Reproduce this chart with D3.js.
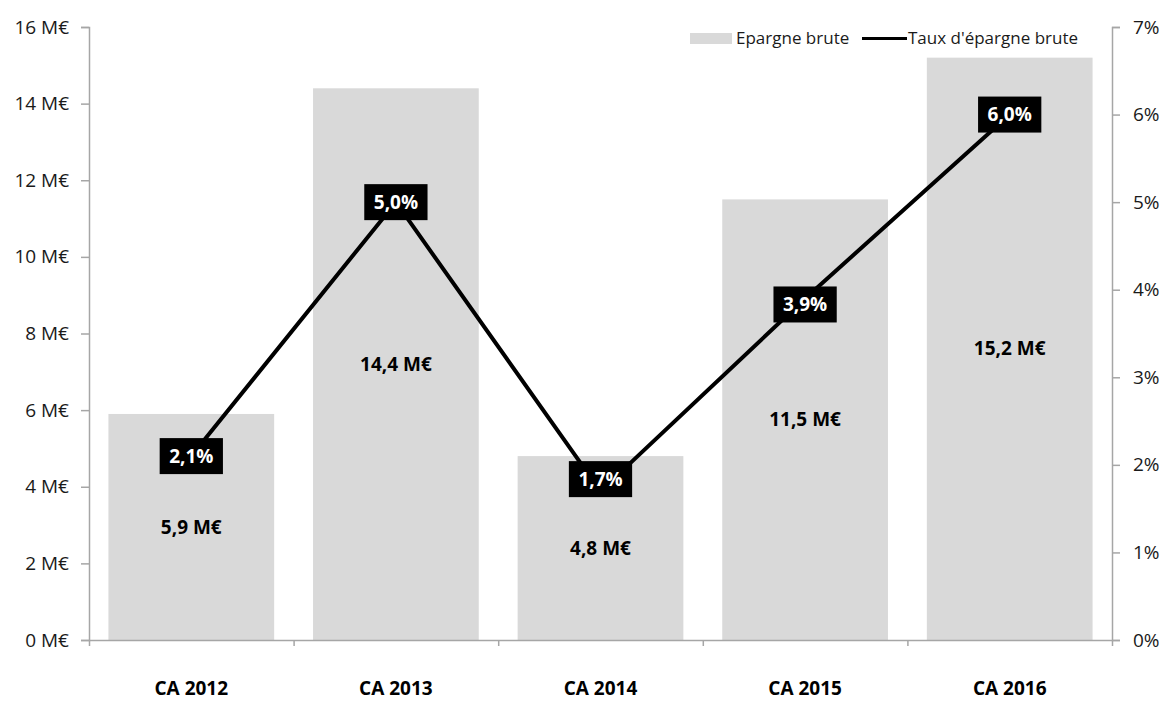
<!DOCTYPE html>
<html>
<head>
<meta charset="utf-8">
<script src="https://cdn.jsdelivr.net/npm/d3@7/dist/d3.min.js"></script>
<style>
  body { margin: 0; background: #fff; }
  text { font-family: "Open Sans", sans-serif; }
</style>
</head>
<body>
<div class="root"></div>
<script>
// Chart data
var categories = ["CA 2012", "CA 2013", "CA 2014", "CA 2015", "CA 2016"];
var epargne = [5.9, 14.4, 4.8, 11.5, 15.2];      // M€
var taux = [2.1, 5.0, 1.7, 3.9, 6.0];            // %
var leftTicks = [0, 2, 4, 6, 8, 10, 12, 14, 16];
var rightTicks = [0, 1, 2, 3, 4, 5, 6, 7];

// Vertical nudges of the rate labels (px), as placed in the original
var labelNudge = [0, 0, -12, 6, 0];

var margin = { top: 27, right: 51, bottom: 62, left: 89 },
    width = 1163 - margin.left - margin.right,
    height = 702 - margin.top - margin.bottom;

var svg = d3.select(".root").append("svg")
    .attr("width", 1163)
    .attr("height", 702)
    .append("g")
    .attr("transform", "translate(" + margin.left + "," + margin.top + ")");

var xScale = d3.scaleBand().domain(categories).range([0, width])
    .paddingInner(0.19).paddingOuter(0.095);
var yLeft = d3.scaleLinear().domain([0, 16]).range([height, 0]);
var yRight = d3.scaleLinear().domain([0, 7]).range([height, 0]);

var axisColor = "#a6a6a6";
var textColor = "#1a1a1a";
var fmtComma = function (v, d) { return v.toFixed(d).replace(".", ","); };

// Bars
svg.selectAll(".bar").data(epargne).enter().append("rect")
    .attr("x", (d, i) => xScale(categories[i]))
    .attr("y", d => yLeft(d))
    .attr("width", xScale.bandwidth())
    .attr("height", d => height - yLeft(d))
    .attr("fill", "#d9d9d9");

// Bar labels
svg.selectAll(".barlab").data(epargne).enter().append("text")
    .attr("x", (d, i) => xScale(categories[i]) + xScale.bandwidth() / 2)
    .attr("y", d => (yLeft(d) + height) / 2)
    .attr("dy", "0.35em")
    .attr("text-anchor", "middle")
    .attr("font-size", 19)
    .attr("font-weight", 700)
    .attr("fill", "#000")
    .text(d => fmtComma(d, 1) + " M€");

// Left axis
var gl = svg.append("g")
    .call(d3.axisLeft(yLeft).tickValues(leftTicks).tickSize(8).tickPadding(12)
        .tickFormat(d => d + " M€"));
gl.select(".domain").attr("stroke", axisColor).attr("stroke-width", 1.5);
gl.selectAll(".tick line").attr("stroke", axisColor).attr("stroke-width", 1.5);
gl.selectAll(".tick text").attr("font-size", 19).attr("fill", textColor)
    .attr("font-family", "Open Sans, sans-serif");

// Right axis
var gr = svg.append("g")
    .attr("transform", "translate(" + width + ",0)")
    .call(d3.axisRight(yRight).tickValues(rightTicks).tickSize(8).tickPadding(13)
        .tickFormat(d => d + "%"));
gr.select(".domain").attr("stroke", axisColor).attr("stroke-width", 1.5);
gr.selectAll(".tick line").attr("stroke", axisColor).attr("stroke-width", 1.5);
gr.selectAll(".tick text").attr("font-size", 19).attr("fill", textColor)
    .attr("font-family", "Open Sans, sans-serif");

// Bottom axis
var xAxisScale = d3.scaleLinear().domain([0, categories.length]).range([0, width]);
var gb = svg.append("g")
    .attr("transform", "translate(0," + height + ")")
    .call(d3.axisBottom(xAxisScale).tickValues(d3.range(categories.length + 1))
        .tickSize(6).tickSizeOuter(0).tickFormat(""));
gb.select(".domain").attr("stroke", axisColor).attr("stroke-width", 1.5);
gb.selectAll(".tick line").attr("stroke", axisColor).attr("stroke-width", 1.5);

svg.selectAll(".catlab").data(categories).enter().append("text")
    .attr("x", d => xScale(d) + xScale.bandwidth() / 2)
    .attr("y", height + 55)
    .attr("text-anchor", "middle")
    .attr("font-size", 19)
    .attr("font-weight", 700)
    .attr("fill", "#000")
    .text(d => d);

// Line
var line = d3.line()
    .x((d, i) => xScale(categories[i]) + xScale.bandwidth() / 2)
    .y(d => yRight(d));

svg.append("path").datum(taux)
    .attr("fill", "none")
    .attr("stroke", "#000")
    .attr("stroke-width", 4)
    .attr("stroke-linejoin", "round")
    .attr("d", line);

// Line labels (black boxes sized to their text)
var lab = svg.selectAll(".linelab").data(taux).enter().append("g")
    .attr("transform", (d, i) => "translate(" + (xScale(categories[i]) + xScale.bandwidth() / 2) + "," + (yRight(d) + labelNudge[i]) + ")");
lab.append("rect").attr("fill", "#000");
var labText = lab.append("text")
    .attr("text-anchor", "middle")
    .attr("dy", "0.35em")
    .attr("font-size", 19)
    .attr("font-weight", 700)
    .attr("fill", "#fff")
    .text(d => fmtComma(d, 1) + "%");
labText.each(function () {
    var w = this.getComputedTextLength() + 19;
    d3.select(this.parentNode).select("rect")
        .attr("x", -w / 2).attr("y", -18).attr("width", w).attr("height", 36);
});

// Legend
var leg = svg.append("g").attr("transform", "translate(" + (690 - margin.left) + "," + (38.5 - margin.top) + ")");
leg.append("rect").attr("x", 0).attr("y", -5.5).attr("width", 42).attr("height", 11).attr("fill", "#d9d9d9");
leg.append("text").attr("x", 46).attr("dy", "0.35em").attr("font-size", 17).attr("fill", textColor)
    .text("Epargne brute");
leg.append("line").attr("x1", 172).attr("x2", 217).attr("y1", 0).attr("y2", 0)
    .attr("stroke", "#000").attr("stroke-width", 3);
leg.append("text").attr("x", 218).attr("dy", "0.35em").attr("font-size", 17).attr("fill", textColor)
    .text("Taux d'épargne brute");
</script>
</body>
</html>
